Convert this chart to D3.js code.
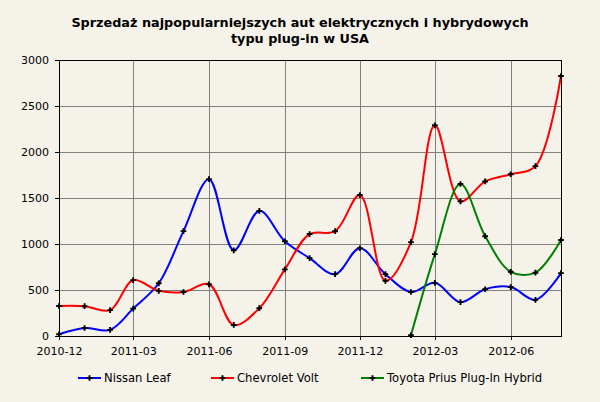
<!DOCTYPE html>
<html>
<head>
<meta charset="utf-8">
<script src="https://cdn.jsdelivr.net/npm/d3@7"></script>
<style>
  html, body { margin: 0; padding: 0; background: #f5f2ea; }
  svg { display: block; font-family: "DejaVu Sans", sans-serif; }
</style>
</head>
<body>
<svg id="chart" width="600" height="402"></svg>
<script>
// monthly sales, Dec 2010 .. Aug 2012
const months = [
  "2010-12", "2011-01", "2011-02", "2011-03", "2011-04", "2011-05", "2011-06",
  "2011-07", "2011-08", "2011-09", "2011-10", "2011-11", "2011-12", "2012-01",
  "2012-02", "2012-03", "2012-04", "2012-05", "2012-06", "2012-07", "2012-08"
];
const nissanLeaf = [19, 87, 67, 298, 573, 1140, 1705, 931, 1360, 1030, 846, 672, 954, 672,
  478, 578, 368, 508, 532, 393, 683];
const chevroletVolt = [326, 324, 281, 607, 491, 478, 562, 120, 302, 724, 1108, 1139, 1532, 600,
  1020, 2290, 1463, 1680, 1758, 1846, 2826];
const priusPlugIn = [null, null, null, null, null, null, null, null, null, null, null, null, null, null,
  8, 890, 1652, 1085, 698, 688, 1043];
const yTicks = [0, 500, 1000, 1500, 2000, 2500, 3000];
const xTickMonths = ["2010-12", "2011-03", "2011-06", "2011-09", "2011-12", "2012-03", "2012-06"];

const series = [
  { name: "Nissan Leaf", color: "#0000ff", values: nissanLeaf },
  { name: "Chevrolet Volt", color: "#ff0000", values: chevroletVolt },
  { name: "Toyota Prius Plug-In Hybrid", color: "#008000", values: priusPlugIn }
];

const parseMonth = d3.timeParse("%Y-%m");
const fmtMonth = d3.timeFormat("%Y-%m");
const dates = months.map(parseMonth);

const plotLeft = 59, plotRight = 561, plotTop = 60, plotBottom = 336;

const svg = d3.select("#chart");

const x = d3.scaleTime()
  .domain([dates[0], dates[dates.length - 1]])
  .range([plotLeft, plotRight]);
const y = d3.scaleLinear().domain([0, 3000]).range([plotBottom, plotTop]);

// title
const title = svg.append("text")
  .attr("text-anchor", "middle")
  .attr("font-size", "12.8px")
  .attr("font-weight", "bold")
  .attr("fill", "#000");
title.append("tspan").attr("x", 300).attr("y", 27)
  .text("Sprzedaż najpopularniejszych aut elektrycznych i hybrydowych");
title.append("tspan").attr("x", 300).attr("y", 43)
  .text("typu plug-in w USA");

// grid
const grid = svg.append("g")
  .attr("stroke", "#808080")
  .attr("stroke-width", 1)
  .attr("shape-rendering", "crispEdges");

grid.selectAll("line.h")
  .data(yTicks)
  .join("line")
  .attr("class", "h")
  .attr("x1", plotLeft).attr("x2", plotRight)
  .attr("y1", d => Math.round(y(d)) + 0.5)
  .attr("y2", d => Math.round(y(d)) + 0.5);

const xTickDates = xTickMonths.map(parseMonth);
grid.selectAll("line.v")
  .data(xTickDates)
  .join("line")
  .attr("class", "v")
  .attr("y1", plotTop).attr("y2", plotBottom)
  .attr("x1", d => Math.round(x(d)) + 0.5)
  .attr("x2", d => Math.round(x(d)) + 0.5);

// axes
const yAxis = svg.append("g")
  .attr("transform", `translate(${plotLeft},0)`)
  .call(d3.axisLeft(y).tickValues(yTicks).tickFormat(d3.format("d"))
    .tickSize(4).tickPadding(6).tickSizeOuter(0));
const xAxis = svg.append("g")
  .attr("transform", `translate(0,${plotBottom})`)
  .call(d3.axisBottom(x).tickValues(xTickDates).tickFormat(fmtMonth)
    .tickSize(4).tickPadding(7).tickSizeOuter(0));

[yAxis, xAxis].forEach(a => {
  a.select(".domain").remove();
  a.selectAll("line").attr("stroke", "#000").attr("shape-rendering", "crispEdges");
  a.selectAll("text")
    .attr("fill", "#000")
    .attr("font-family", "DejaVu Sans, sans-serif")
    .attr("font-size", "11px");
});

// frame
svg.append("rect")
  .attr("x", plotLeft + 0.5).attr("y", plotTop + 0.5)
  .attr("width", plotRight - plotLeft).attr("height", plotBottom - plotTop)
  .attr("fill", "none")
  .attr("stroke", "#000")
  .attr("shape-rendering", "crispEdges");

// lines
const line = d3.line()
  .defined(d => d.v != null)
  .x(d => x(d.date))
  .y(d => y(d.v))
  .curve(d3.curveCatmullRom.alpha(0.5));

const marker = d3.symbol().type(d3.symbolCross).size(18);

series.forEach(s => {
  const pts = s.values.map((v, i) => ({ date: dates[i], v }));
  svg.append("path")
    .datum(pts)
    .attr("d", line)
    .attr("fill", "none")
    .attr("stroke", s.color)
    .attr("stroke-width", 2);
  svg.append("g")
    .selectAll("path")
    .data(pts.filter(d => d.v != null))
    .join("path")
    .attr("d", marker)
    .attr("transform", d => `translate(${x(d.date)},${y(d.v)})`)
    .attr("fill", "#000");
});

// legend
const legendX = [78, 211, 361];
const legend = svg.append("g");
series.forEach((s, i) => {
  const g = legend.append("g").attr("transform", `translate(${legendX[i]},378)`);
  g.append("line")
    .attr("x1", 0).attr("x2", 23).attr("y1", 0).attr("y2", 0)
    .attr("stroke", s.color).attr("stroke-width", 2);
  g.append("path").attr("d", marker).attr("transform", "translate(11.5,0)").attr("fill", "#000");
  g.append("text")
    .attr("x", 26).attr("y", 4)
    .attr("font-size", "11.6px")
    .attr("fill", "#000")
    .text(s.name);
});
</script>
</body>
</html>
